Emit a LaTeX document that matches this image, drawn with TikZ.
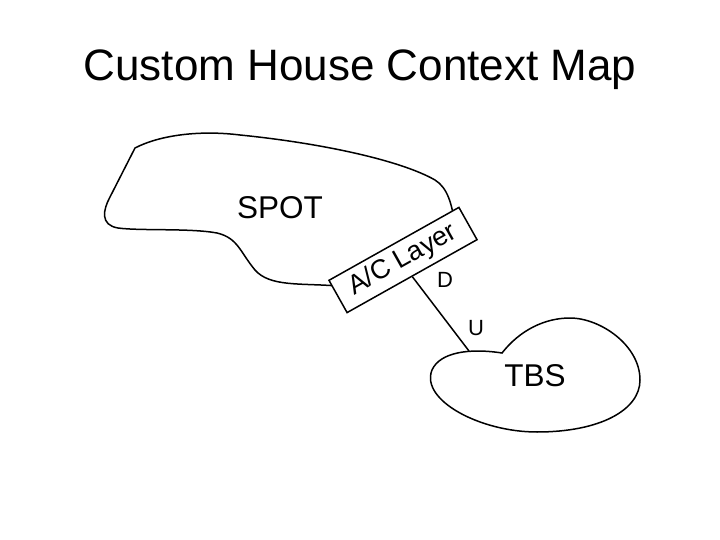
\documentclass[tikz,border=0pt]{standalone}
\usepackage{fontspec}
\setmainfont{Liberation Sans}
\tikzset{
  blob/.style={draw, line width=1.5pt},
  layerbox/.style={draw, fill=white, line width=1.5pt, rotate=29.3,
    minimum width=149pt, minimum height=37pt, inner sep=0pt,
    font=\fontsize{27}{27}\selectfont},
  bigtext/.style={font=\fontsize{31.5}{31.5}\selectfont},
  endtext/.style={font=\fontsize{22}{22}\selectfont}
}
\begin{document}
\begin{tikzpicture}[x=1pt,y=-1pt]
\useasboundingbox (0,0) rectangle (720,540);
% Title
\node[font=\fontsize{44}{44}\selectfont] (title) at (360,70) {Custom House Context Map};
% SPOT outline
\draw[blob] (135,148) .. controls (160,135) and (200,130) .. (240,135)
  .. controls (320,143) and (400,160) .. (435,180)
  .. controls (448,188) and (452,205) .. (455,225)
  -- (338,286)
  .. controls (300,283) and (270,287) .. (255,270)
  .. controls (240,252) and (238,238) .. (217,233)
  .. controls (190,228) and (140,231) .. (118,228)
  .. controls (100,225) and (103,210) .. (110,197) -- cycle;
\node[bigtext] (spot) at (280,208) {SPOT};
% A/C layer box
\node[layerbox] (aclayer) at (403,260) {A/C Layer};
% TBS outline
\draw[blob] (502,353) .. controls (470,348) and (440,352) .. (432,370)
  .. controls (420,400) and (480,432) .. (537,432)
  .. controls (600,432) and (640,410) .. (640,380)
  .. controls (640,345) and (600,318) .. (570,318)
  .. controls (545,318) and (520,330) .. (502,353) -- cycle;
\node[bigtext] (tbs) at (535,376) {TBS};
\coordinate (tbstop) at (469,351);
% link
\draw[line width=1.5pt] (aclayer.south) -- (tbstop);
\node[endtext] (dlabel) at (445,280) {D};
\node[endtext] (ulabel) at (476,328) {U};
\end{tikzpicture}
\end{document}
